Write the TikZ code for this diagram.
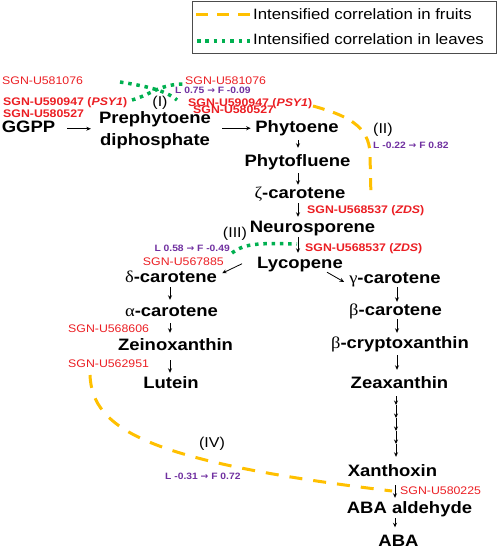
\documentclass[tikz,border=0pt]{standalone}
\usepackage{fontspec}
\setmainfont[FakeStretch=1.12]{Liberation Sans}
\newfontfamily\grk[FakeStretch=1.12]{Liberation Serif}
\newfontfamily\djv{DejaVu Sans}
\usetikzlibrary{arrows.meta,calc}
\definecolor{sgnred}{RGB}{235,30,35}
\definecolor{lpurple}{RGB}{112,48,160}
\definecolor{fgold}{RGB}{255,192,0}
\definecolor{lgreen}{RGB}{0,176,80}
\newcommand{\gk}[1]{{\grk\mdseries #1}}
\newcommand{\rarr}{{\djv\bfseries →}}
\begin{document}
\begin{tikzpicture}[x=1pt,y=-1pt,
  mainnode/.style={font=\fontsize{16.5}{19}\selectfont\bfseries, inner sep=0pt, text height=12.5pt, text depth=4pt, anchor=base},
  geneB/.style={font=\fontsize{11}{13}\selectfont\bfseries, text=sgnred, inner sep=0pt, anchor=base west},
  geneR/.style={font=\fontsize{11}{13}\selectfont, text=sgnred, inner sep=0pt, anchor=base west},
  corr/.style={font=\fontsize{9.2}{11}\selectfont\bfseries, text=lpurple, inner sep=0pt},
  roman/.style={font=\fontsize{14.3}{16}\selectfont, inner sep=0pt, anchor=base},
  legtext/.style={font=\fontsize{15}{17}\selectfont, inner sep=0pt, anchor=base west},
  arr/.style={draw=black, line width=0.8pt, -{Stealth[length=4.5pt,width=4pt]}},
  fruitline/.style={draw=fgold, line width=3pt, dash pattern=on 12pt off 9pt},
  leafline/.style={draw=lgreen, line width=3.5pt, dash pattern=on 3.5pt off 4.8pt}
]
\useasboundingbox (0,0) rectangle (498,548);

% legend
\draw[black!70, line width=0.8pt] (192,1.5) rectangle (496.5,53);
\coordinate (lf1) at (196,15);
\coordinate (lf2) at (251,15);
\draw[fruitline] (lf1) -- (lf2);
\node[legtext] (legfruit) at (253,19.3) {Intensified correlation in fruits};
\coordinate (ll1) at (197,41);
\coordinate (ll2) at (252,41);
\draw[leafline] (ll1) -- (ll2);
\node[legtext] (legleaf) at (253,45) {Intensified correlation in leaves};

% correlation lines
\coordinate (iaS) at (120,82);
\coordinate (iaE) at (177,100);
\draw[leafline] (iaS) .. controls (145,86) and (165,90) .. (iaE);
\coordinate (ibS) at (132,100);
\coordinate (ibE) at (184,84);
\draw[leafline] (ibS) .. controls (150,95) and (160,84) .. (ibE);
\coordinate (iiS) at (313,106);
\coordinate (iiE) at (371,198);
\draw[fruitline] (iiS) .. controls (345,115) and (370,125) .. (370,155) -- (iiE);
\coordinate (iiiS) at (232,253);
\coordinate (iiiE) at (297,244);
\draw[leafline] (iiiS) .. controls (245,243) and (260,243) .. (iiiE);
\coordinate (ivS) at (90,375);
\coordinate (ivE) at (392,491);
\draw[fruitline, dash pattern=on 13pt off 11pt] (ivS) .. controls (92,430) and (150,462) .. (ivE);

% main compounds
\node[mainnode] (ggpp) at (28.5,133) {GGPP};
\node[font=\fontsize{16.5}{21.5}\selectfont\bfseries, inner sep=0pt, align=center] (prep) at (155,130) {Prephytoene\\diphosphate};
\node[mainnode] (phyto) at (297,132.5) {Phytoene};
\node[mainnode] (phytofl) at (297.5,166.5) {Phytofluene};
\node[mainnode] (zcar) at (300,198.5) {\gk{ζ}-carotene};
\node[mainnode] (neuro) at (312.5,232.5) {Neurosporene};
\node[mainnode] (lyc) at (300,268) {Lycopene};
\node[mainnode] (gcar) at (395,283) {\gk{γ}-carotene};
\node[mainnode] (dcar) at (171,282.5) {\gk{δ}-carotene};
\node[mainnode] (acar) at (171.5,316.5) {\gk{α}-carotene};
\node[mainnode] (zein) at (175.5,350) {Zeinoxanthin};
\node[mainnode] (lutein) at (171,388) {Lutein};
\node[mainnode] (bcar) at (395.5,315) {\gk{β}-carotene};
\node[mainnode] (bcry) at (400,348) {\gk{β}-cryptoxanthin};
\node[mainnode] (zea) at (399.5,388) {Zeaxanthin};
\node[mainnode] (xan) at (392.5,476.5) {Xanthoxin};
\node[mainnode] (abaald) at (409.5,513) {ABA aldehyde};
\node[mainnode] (aba) at (398.5,546) {ABA};

% labels
\node[geneR] (g1L) at (2,85) {SGN-U581076};
\node[geneB] (g2L) at (3,106) {SGN-U590947 (\textit{PSY1})};
\node[geneB] (g3L) at (3,118) {SGN-U580527};
\node[geneR] (g1R) at (185,85) {SGN-U581076};
\node[corr, anchor=base west] (c1) at (175,94) {L 0.75 \rarr{} F -0.09};
\node[geneB] (g2R) at (188,106.5) {SGN-U590947 (\textit{PSY1})};
\node[geneB] (g3R) at (193,114) {SGN-U580527};
\node[roman] (r1) at (160,107) {(I)};
\node[roman, anchor=base west] (r2) at (373,134) {(II)};
\node[corr, anchor=base west] (c2) at (373,149) {L -0.22 \rarr{} F 0.82};
\node[geneB] (zds1) at (307,213) {SGN-U568537 (\textit{ZDS})};
\node[geneB] (zds2) at (305,251) {SGN-U568537 (\textit{ZDS})};
\node[roman] (r3) at (235,237) {(III)};
\node[corr, anchor=base east] (c3) at (230,251.5) {L 0.58 \rarr{} F -0.49};
\node[geneR, anchor=base east] (g567) at (224,265) {SGN-U567885};
\node[geneR] (g606) at (68,332.5) {SGN-U568606};
\node[geneR] (g951) at (68,367) {SGN-U562951};
\node[roman] (r4) at (212,447) {(IV)};
\node[corr, anchor=base west] (c4) at (165,479.5) {L -0.31 \rarr{} F 0.72};
\node[geneR] (g225) at (400,494) {SGN-U580225};

% axes for vertical arrows
\coordinate (axA) at (298,0);
\coordinate (axL) at (170,0);
\coordinate (axR) at (397,0);
\coordinate (axC) at (396,0);
\coordinate (axB) at (395,0);

% arrows
\draw[arr, shorten <=12pt, shorten >=8pt] (ggpp.east) -- (ggpp.east -| prep.west);
\draw[arr, shorten <=11pt, shorten >=4.5pt] (prep.east |- phyto.west) -- (phyto.west);
\draw[arr, shorten <=3.5pt, shorten >=6pt] (phyto.south -| axA) -- (phytofl.north -| axA);
\draw[arr, shorten <=2.5pt, shorten >=1pt] (phytofl.south -| axA) -- (zcar.north -| axA);
\draw[arr, shorten <=0.5pt, shorten >=3pt] (zcar.south -| axA) -- (neuro.north -| axA);
\draw[arr, shorten <=0.5pt, shorten >=2.5pt] (neuro.south -| axA) -- (lyc.north -| axA);
\draw[arr] ($(lyc.south)+(27,0)$) -- ($(gcar.west)+(-5,3.25)$);
\draw[arr] ($(lyc.west)+(-15,0)$) -- ($(dcar.east)+(5,-5)$);
\draw[arr, shorten <=0.5pt, shorten >=4pt] (dcar.south -| axL) -- (acar.north -| axL);
\draw[arr, shorten <=2.5pt, shorten >=4.5pt] (acar.south -| axL) -- (zein.north -| axL);
\draw[arr, shorten <=6pt, shorten >=2.5pt] (zein.south -| axL) -- (lutein.north -| axL);
\draw[arr, shorten >=0.5pt] (gcar.south -| axR) -- (bcar.north -| axR);
\draw[arr, shorten >=2.5pt] (bcar.south -| axR) -- (bcry.north -| axR);
\draw[arr, shorten <=3pt, shorten >=5.5pt] (bcry.south -| axR) -- (zea.north -| axR);
\coordinate (ch1) at (396,405);
\coordinate (ch2) at (396,418);
\coordinate (ch3) at (396,431);
\coordinate (ch4) at (396,444);
\draw[arr, shorten <=4pt] (zea.south -| axC) -- (ch1);
\draw[arr] (ch1) -- (ch2);
\draw[arr] (ch2) -- (ch3);
\draw[arr] (ch3) -- (ch4);
\draw[arr, shorten >=7pt] (ch4) -- (xan.north -| axC);
\draw[arr, shorten <=4.5pt, shorten >=2.5pt] (xan.south -| axB) -- (abaald.north -| axB);
\draw[arr, shorten <=1pt, shorten >=6pt] (abaald.south -| axB) -- (aba.north -| axB);
\end{tikzpicture}
\end{document}
